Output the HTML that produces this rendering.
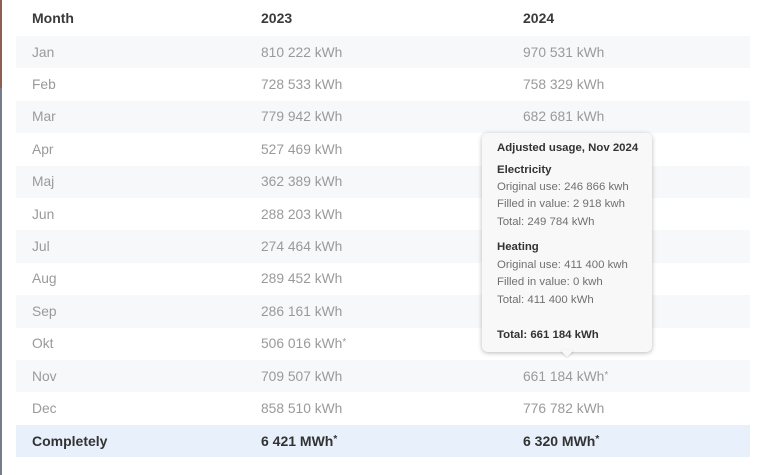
<!DOCTYPE html>
<html><head><meta charset="utf-8"><style>
html,body{margin:0;padding:0;width:765px;height:475px;overflow:hidden;background:#fff;font-family:"Liberation Sans",sans-serif;}
.strip1{position:absolute;left:0;top:0;width:2px;height:88px;background:#8e5f52;}
.strip2{position:absolute;left:0;top:88px;width:2px;height:387px;background:#747e88;}
.row{position:absolute;left:16px;width:734px;height:32.4px;}
.sh{background:#f7f8fa;}
.tot{background:#e7f0fb;}
.c{position:absolute;top:0;height:100%;display:flex;align-items:center;font-size:13.8px;color:#9a9a9a;white-space:nowrap;}
.c1{left:16px}.c2{left:245px}.c3{left:507px}
.hd .c{color:#3a3a3a;font-weight:bold;font-size:14px;}
.tot .c{color:#333;font-weight:bold;font-size:14px;}
sup{font-size:10px;vertical-align:top;position:relative;top:-1px;}
.tip{position:absolute;left:482px;top:133px;width:170px;height:219px;background:#f8f8f8;border-radius:6px;box-shadow:0 1px 5px rgba(0,0,0,0.28);}
.arrow{position:absolute;left:560px;top:350px;width:0;height:0;border-left:7px solid transparent;border-right:7px solid transparent;border-top:7px solid #f8f8f8;filter:drop-shadow(0 1px 1px rgba(0,0,0,0.15));}
.t{position:absolute;left:497px;font-size:11.4px;color:#707070;white-space:nowrap;line-height:14px;}
.b{font-weight:bold;color:#333;}
</style></head><body>
<div class="strip1"></div><div class="strip2"></div>

<div class="row hd" style="top:0;height:36px"><div class="c c1">Month</div><div class="c c2">2023</div><div class="c c3">2024</div></div>
<div class="row sh" style="top:36px"><div class="c c1">Jan</div><div class="c c2">810 222 kWh</div><div class="c c3">970 531 kWh</div></div>
<div class="row" style="top:68.4px"><div class="c c1">Feb</div><div class="c c2">728 533 kWh</div><div class="c c3">758 329 kWh</div></div>
<div class="row sh" style="top:100.8px"><div class="c c1">Mar</div><div class="c c2">779 942 kWh</div><div class="c c3">682 681 kWh</div></div>
<div class="row" style="top:133.2px"><div class="c c1">Apr</div><div class="c c2">527 469 kWh</div></div>
<div class="row sh" style="top:165.6px"><div class="c c1">Maj</div><div class="c c2">362 389 kWh</div></div>
<div class="row" style="top:198px"><div class="c c1">Jun</div><div class="c c2">288 203 kWh</div></div>
<div class="row sh" style="top:230.4px"><div class="c c1">Jul</div><div class="c c2">274 464 kWh</div></div>
<div class="row" style="top:262.8px"><div class="c c1">Aug</div><div class="c c2">289 452 kWh</div></div>
<div class="row sh" style="top:295.2px"><div class="c c1">Sep</div><div class="c c2">286 161 kWh</div></div>
<div class="row" style="top:327.6px"><div class="c c1">Okt</div><div class="c c2">506 016 kWh<sup>*</sup></div></div>
<div class="row sh" style="top:360px"><div class="c c1">Nov</div><div class="c c2">709 507 kWh</div><div class="c c3">661 184 kWh<sup>*</sup></div></div>
<div class="row" style="top:392.4px"><div class="c c1">Dec</div><div class="c c2">858 510 kWh</div><div class="c c3">776 782 kWh</div></div>
<div class="row tot" style="top:424.8px"><div class="c c1">Completely</div><div class="c c2">6 421 MWh<sup>*</sup></div><div class="c c3">6 320 MWh<sup>*</sup></div></div>

<div class="tip"></div>
<div class="arrow"></div>
<div class="t b" style="top:141px">Adjusted usage, Nov 2024</div>
<div class="t b" style="top:163px">Electricity</div>
<div class="t" style="top:180px">Original use: 246 866 kwh</div>
<div class="t" style="top:197px">Filled in value: 2 918 kwh</div>
<div class="t" style="top:215px">Total: 249 784 kWh</div>
<div class="t b" style="top:240px">Heating</div>
<div class="t" style="top:258px">Original use: 411 400 kwh</div>
<div class="t" style="top:275px">Filled in value: 0 kwh</div>
<div class="t" style="top:293px">Total: 411 400 kWh</div>
<div class="t b" style="top:328px">Total: 661 184 kWh</div>
</body></html>
